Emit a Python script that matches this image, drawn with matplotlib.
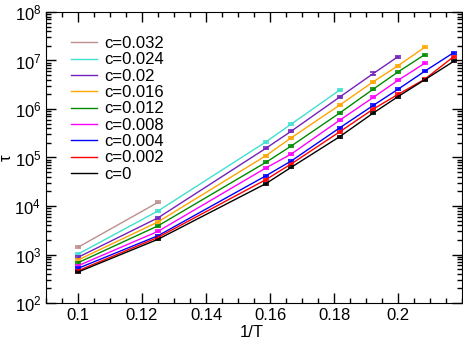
import numpy as np
import matplotlib
matplotlib.use("Agg")
import matplotlib.pyplot as plt
from matplotlib.ticker import MultipleLocator, LogLocator, NullFormatter

plt.rcParams['font.family'] = ['Liberation Sans', 'DejaVu Sans']
plt.rcParams['mathtext.fontset'] = 'custom'
plt.rcParams['mathtext.rm'] = 'Liberation Sans'

# inverse temperatures
T = [10, 8, 6.3, 6, 5.5, 5.2, 5, 4.8, 4.6]
invT = [1.0 / t for t in T]

# tau values (one list per concentration)
labels = ["c=0.032", "c=0.024", "c=0.02", "c=0.016", "c=0.012",
          "c=0.008", "c=0.004", "c=0.002", "c=0"]
colors = ["#bc8f8f", "#40e0d0", "#7221bc", "#ffa500", "#008b00",
          "#ff00ff", "#0000ff", "#ff0000", "#000000"]

tau_c032 = [1.41e3, 1.19e4]
tau_c024 = [1.02e3, 7.9e3, 2.1e5, 4.9e5, 2.47e6]
tau_c020 = [875, 5.7e3, 1.55e5, 3.5e5, 1.77e6, 5.4e6, 1.2e7]
tau_c016 = [770, 4.7e3, 1.09e5, 2.56e5, 1.21e6, 3.66e6, 7.8e6, 1.87e7]
tau_c012 = [678, 3.9e3, 7.96e4, 1.73e5, 8.3e5, 2.58e6, 5.8e6, 1.32e7]
tau_c008 = [587, 3.0e3, 6.1e4, 1.18e5, 5.9e5, 1.74e6, 3.9e6, 8.75e6]
tau_c004 = [519, 2.44e3, 4.2e4, 8.5e4, 4.1e5, 1.19e6, 2.55e6, 6.0e6, 1.45e7]
tau_c002 = [463, 2.26e3, 3.5e4, 7.4e4, 3.4e5, 1.0e6, 2.0e6, 4.1e6, 1.2e7]
tau_c000 = [435, 2.06e3, 2.9e4, 6.3e4, 2.7e5, 8.3e5, 1.8e6, 4.0e6, 9.6e6]

series = [tau_c032, tau_c024, tau_c020, tau_c016, tau_c012,
          tau_c008, tau_c004, tau_c002, tau_c000]
rel_err = 0.05  # relative error bars

fig = plt.figure(figsize=(4.63, 3.40), dpi=100)
ax = fig.add_axes([0.0994, 0.1088, 0.8985, 0.856])

for lab, col, tau in zip(labels, colors, series):
    x = invT[:len(tau)]
    y = np.array(tau)
    ax.errorbar(x, y, yerr=rel_err * y, color=col, lw=1.0, elinewidth=1.0,
                capsize=2.5, capthick=1.2, label=lab)

ax.set_yscale('log')
ax.set_xlim(0.09, 0.22)
ax.set_ylim(1e2, 1e8)

ax.xaxis.set_minor_locator(MultipleLocator(0.005))
ax.set_xticks([0.1, 0.12, 0.14, 0.16, 0.18, 0.2])
ax.set_xticklabels(["0.1", "0.12", "0.14", "0.16", "0.18", "0.2"])
ax.yaxis.set_major_locator(LogLocator(base=10, numticks=10))
ax.yaxis.set_minor_locator(LogLocator(base=10, subs=np.arange(2, 10), numticks=20))
ax.yaxis.set_minor_formatter(NullFormatter())

ax.tick_params(which='both', direction='in', top=True, right=True, labelsize=12)
ax.tick_params(which='major', length=7, width=1)
ax.tick_params(which='minor', length=3.5, width=1)

ax.set_xlabel("1/T", fontsize=12)
ax.xaxis.set_label_coords(0.495, -0.074)
ax.set_ylabel("τ", fontsize=12)
ax.yaxis.set_label_coords(-0.078, 0.5)

handles, labs = ax.get_legend_handles_labels()
handles = [h[0] for h in handles]
ax.legend(handles, labs, loc='upper left', frameon=False, fontsize=12,
          handlelength=1.6, handletextpad=0.4, labelspacing=0.08,
          borderaxespad=0, bbox_to_anchor=(0.043, 0.94))

fig.savefig("out.png", dpi=100)
